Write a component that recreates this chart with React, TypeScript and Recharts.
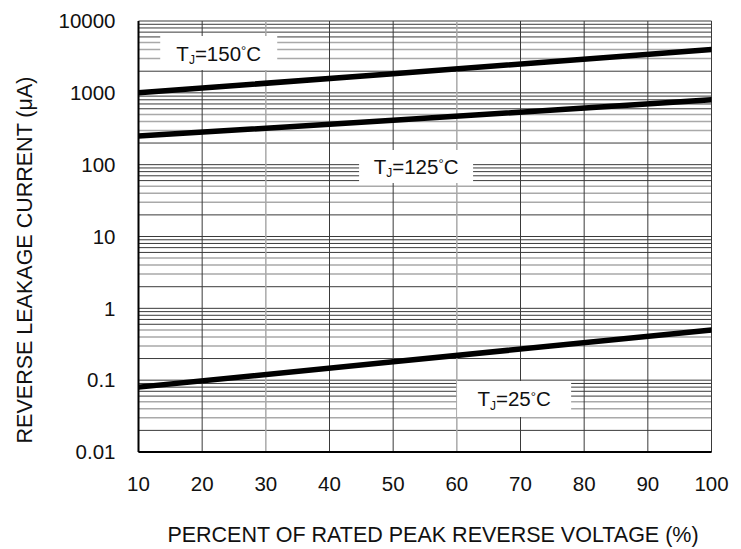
import React from 'react';
import { LineChart, Line, XAxis, YAxis, ReferenceLine, ReferenceDot, Label } from 'recharts';

// ---- data ----
const percentRated = [10, 50, 100];
const tj150 = [1000, 1850, 4000];
const tj125 = [250, 415, 800];
const tj25 = [0.08, 0.18, 0.5];

const xTicks = [10, 20, 30, 40, 50, 60, 70, 80, 90, 100];
const yTicks = [0.01, 0.1, 1, 10, 100, 1000, 10000];

const grayVertical = [30, 60];
const minorMultipliers = [2, 3, 4, 5, 6, 7, 8, 9];
const grayMultipliers = [3, 4, 5];

const curveLabels = [
  { temp: '150', x: 22.6, y: 3585, w: 117, h: 34 },
  { temp: '125', x: 53.6, y: 94.3, w: 114, h: 33 },
  { temp: '25', x: 69.0, y: 0.0547, w: 114, h: 36 },
];

const data = percentRated.map((p, i) => ({
  p,
  t150: tj150[i],
  t125: tj125[i],
  t25: tj25[i],
}));

const FONT = '"Liberation Sans", Arial, Helvetica, sans-serif';
const DARK = '#3a3a3a';
const GRAY = '#a9a9a9';

const hLines: { v: number; gray: boolean }[] = [];
for (let d = 0; d < yTicks.length; d++) {
  const base = yTicks[d];
  hLines.push({ v: base, gray: false });
  if (d < yTicks.length - 1) {
    minorMultipliers.forEach((m) => {
      hLines.push({ v: +(base * m).toPrecision(6), gray: grayMultipliers.includes(m) });
    });
  }
}
const vLines = xTicks.slice(1).map((v) => ({ v, gray: grayVertical.includes(v) }));

const makeLabelShape = (temp: string, w: number, h: number) => (props: any) => {
  const { cx, cy } = props;
  if (cx == null || cy == null) return <g />;
  const baseline = cy + 7.5;
  return (
    <g>
      <rect x={cx - w / 2} y={cy - h / 2} width={w} height={h} fill="#ffffff" />
      <text x={cx} y={baseline} textAnchor="middle" fontFamily={FONT} fontSize={20.5} fill="#111">
        <tspan>T</tspan>
        <tspan fontSize={12} dy={3.5}>J</tspan>
        <tspan dy={-3.5}>={temp}</tspan>
        <tspan fontSize={13} dy={-5.5}>°</tspan>
        <tspan dy={5.5}>C</tspan>
      </text>
    </g>
  );
};

export default function App() {
  return (
    <div style={{ position: 'absolute', left: 0, top: 0, width: 741, height: 549, background: '#fff' }}>
      <LineChart
        width={741}
        height={549}
        data={data}
        margin={{ top: 21, right: 29.5, bottom: 47, left: 38.5 }}
      >
        <XAxis
          dataKey="p"
          type="number"
          domain={[10, 100]}
          ticks={xTicks}
          allowDataOverflow
          height={50}
          tickSize={0}
          tickMargin={24}
          tickLine={false}
          axisLine={{ stroke: '#000', strokeWidth: 2 }}
          tick={{ fill: '#111', fontSize: 20.5, fontFamily: FONT }}
        >
          <Label
            content={() => (
              <text x={433} y={541.5} textAnchor="middle" fontFamily={FONT} fontSize={21.5} fill="#111">
                PERCENT OF RATED PEAK REVERSE VOLTAGE (%)
              </text>
            )}
          />
        </XAxis>
        <YAxis
          type="number"
          scale="log"
          domain={[0.01, 10000]}
          ticks={yTicks}
          allowDataOverflow
          width={100}
          tickSize={0}
          tickMargin={23}
          tickLine={false}
          axisLine={{ stroke: '#000', strokeWidth: 2 }}
          tickFormatter={(v: number) => String(v)}
          tick={{ fill: '#111', fontSize: 20.5, fontFamily: FONT }}
        >
          <Label
            content={() => (
              <text
                x={31.5}
                y={260}
                transform="rotate(-90, 31.5, 260)"
                textAnchor="middle"
                fontFamily={FONT}
                fontSize={21.5}
                fill="#111"
              >
                REVERSE LEAKAGE CURRENT (μA)
              </text>
            )}
          />
        </YAxis>

        {hLines.map((l) => (
          <ReferenceLine
            key={'h' + l.v}
            y={l.v}
            stroke={l.gray ? GRAY : DARK}
            strokeWidth={l.gray ? 1.5 : 1}
            ifOverflow="extendDomain"
          />
        ))}
        {vLines.map((l) => (
          <ReferenceLine
            key={'v' + l.v}
            x={l.v}
            stroke={l.gray ? GRAY : DARK}
            strokeWidth={l.gray ? 1.5 : 1}
          />
        ))}

        {curveLabels.map((c) => (
          <ReferenceDot
            key={c.temp}
            x={c.x}
            y={c.y}
            r={1}
            shape={makeLabelShape(c.temp, c.w, c.h)}
          />
        ))}

        <Line type="linear" dataKey="t150" stroke="#000" strokeWidth={5.5} dot={false} isAnimationActive={false} strokeLinecap="round" />
        <Line type="linear" dataKey="t125" stroke="#000" strokeWidth={5.5} dot={false} isAnimationActive={false} strokeLinecap="round" />
        <Line type="linear" dataKey="t25" stroke="#000" strokeWidth={5.5} dot={false} isAnimationActive={false} strokeLinecap="round" />
      </LineChart>
    </div>
  );
}
